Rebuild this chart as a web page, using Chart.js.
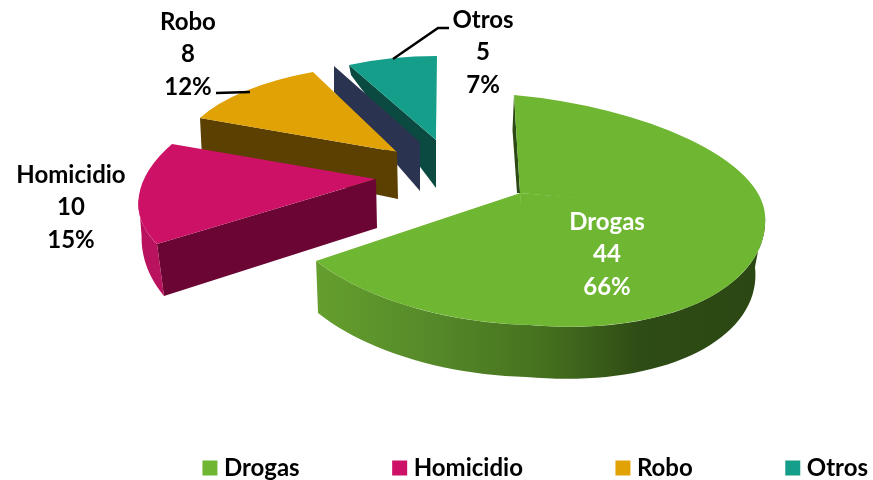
<!DOCTYPE html>
<html>
<head>
<meta charset="utf-8">
<title>Delitos</title>
<script src="https://cdn.jsdelivr.net/npm/chart.js@4"></script>
<style>
  html, body { margin: 0; padding: 0; background: #fff; }
  #wrap { width: 873px; height: 480px; }
</style>
</head>
<body>
<div id="wrap"><canvas id="pie" width="873" height="480"></canvas></div>
<script>
// data (the 5th slice is 0, only its side wall shows, no legend entry)
const categories = ["Drogas", "Homicidio", "Robo", "", "Otros"];
const values = [44, 10, 8, 0, 5];
const topColors = ["#6fb632", "#cd1166", "#e0a205", "#2a3350", "#159e8a"];

const FONT = 'bold 24px Lato, "Open Sans", sans-serif';
const DEG = Math.PI / 180;

// how each exploded slice sits on the page: apex + rim points, walls hand fitted
// rim[] goes from the slice start to its end, midAngles are the extra rim points in degrees
const shapes = [
  { apex: [520, 193], rim: [[514, 95], [765, 215], [530, 325], [316, 261]], midAngles: [90, 180],
    edge: { d1: [-1.5, 35], d2: [-3, 0], fill: "#2e4a14" },
    outer: { from: 90, to: 236.4, d1: [-10, 52], d2: [2, 52], gradient: true } },
  { apex: [376, 179], rim: [[157, 244], [172, 144]], midAngles: [],
    outer: { from: 236.4, to: 262, d1: [7, 52], d2: [3, 38], fill: "#b9125f" },
    edge: { d1: [7, 52], d2: [1, 49], fill: "#6b0533" } },
  { apex: [397, 152], rim: [[200, 118], [313, 72]], midAngles: [],
    edge: { d1: [2, 40], d2: [1, 47], fill: "#5c4002" } },
  { apex: [420, 142], rim: [[334, 66], [334, 66]], midAngles: [],
    edge: { d1: [0, 26], d2: [0, 49], fill: "#2a3350" } },
  { apex: [436, 140], rim: [[349, 65], [437, 56]], midAngles: [],
    edge: { d1: [2, 10], d2: [0, 48], fill: "#0a4a40" } },
];

// back to front
const paintOrder = [4, 3, 2, 1, 0];

const labelSpots = [
  { x: 607, y: 222, color: "#ffffff" },
  { x: 71, y: 175, color: "#000000" },
  { x: 188, y: 22, color: "#000000" },
  null,
  { x: 483, y: 20, color: "#000000" },
];
const LINE_H = 32.5;
const leaders = [
  [[216, 93], [250, 92]],
  [[393, 59], [438, 28], [449, 28]],
];

// one linear map per rim stretch, so the rim passes through the fitted points
function pieces(shape, arc) {
  const R0 = (arc.startAngle + Math.PI / 2);
  const R1 = (arc.endAngle + Math.PI / 2);
  const angles = [R0].concat(shape.midAngles.map(a => a * DEG), [R1]);
  const out = [];
  for (let i = 0; i < angles.length - 1; i++) {
    const a1 = angles[i], a2 = angles[i + 1];
    const u1 = [Math.sin(a1), -Math.cos(a1)], u2 = [Math.sin(a2), -Math.cos(a2)];
    const p1 = [shape.rim[i][0] - shape.apex[0], shape.rim[i][1] - shape.apex[1]];
    const p2 = [shape.rim[i + 1][0] - shape.apex[0], shape.rim[i + 1][1] - shape.apex[1]];
    const det = u1[0] * u2[1] - u2[0] * u1[1];
    if (Math.abs(det) < 1e-6) continue;
    out.push({
      a1, a2,
      A: (p1[0] * u2[1] - p2[0] * u1[1]) / det,
      B: (p2[0] * u1[0] - p1[0] * u2[0]) / det,
      C: (p1[1] * u2[1] - p2[1] * u1[1]) / det,
      D: (p2[1] * u1[0] - p1[1] * u2[0]) / det,
    });
  }
  return out;
}

function rimPoint(shape, list, t) {
  let p = list[list.length - 1];
  for (const q of list) { if (t <= q.a2) { p = q; break; } }
  const ux = Math.sin(t), uy = -Math.cos(t);
  return [shape.apex[0] + p.A * ux + p.B * uy, shape.apex[1] + p.C * ux + p.D * uy];
}

function polygon(ctx, pts, fill) {
  ctx.beginPath();
  pts.forEach((p, i) => { if (i === 0) ctx.moveTo(p[0], p[1]); else ctx.lineTo(p[0], p[1]); });
  ctx.closePath();
  ctx.fillStyle = fill;
  ctx.fill();
}

function drawOuterWall(ctx, shape, list) {
  const o = shape.outer;
  if (!o) return;
  const top = [], bottom = [];
  for (let i = 0; i <= 60; i++) {
    const k = i / 60;
    const p = rimPoint(shape, list, (o.from + (o.to - o.from) * k) * DEG);
    top.push(p);
    bottom.push([p[0] + o.d1[0] + (o.d2[0] - o.d1[0]) * k, p[1] + o.d1[1] + (o.d2[1] - o.d1[1]) * k]);
  }
  let fill = o.fill;
  if (o.gradient) {
    fill = ctx.createLinearGradient(316, 0, 765, 0);
    fill.addColorStop(0, "#659f2e");
    fill.addColorStop(0.25, "#568a29");
    fill.addColorStop(0.5, "#46721f");
    fill.addColorStop(0.72, "#2e4c15");
    fill.addColorStop(1, "#2b4713");
  }
  polygon(ctx, top.concat(bottom.reverse()), fill);
}

function drawEdgeWall(ctx, shape) {
  const e = shape.edge;
  if (!e) return;
  const c = shape.rim[0], a = shape.apex;
  polygon(ctx, [c, a, [a[0] + e.d2[0], a[1] + e.d2[1]], [c[0] + e.d1[0], c[1] + e.d1[1]]], e.fill);
}

function drawTop(ctx, shape, list, arc) {
  if (arc.circumference === 0) return;
  const R = arc.outerRadius;
  list.forEach(p => {
    ctx.save();
    ctx.transform(p.A / R, p.C / R, p.B / R, p.D / R, shape.apex[0], shape.apex[1]);
    ctx.translate(-arc.x, -arc.y);
    // wedge for this stretch, a touch wider so no seam shows
    ctx.beginPath();
    ctx.moveTo(arc.x, arc.y);
    ctx.arc(arc.x, arc.y, R * 1.2, p.a1 - Math.PI / 2 - 0.01, p.a2 - Math.PI / 2 + 0.01);
    ctx.closePath();
    ctx.clip();
    arc.draw(ctx);
    ctx.restore();
  });
}

const pie3d = {
  id: "pie3d",
  beforeDatasetDraw(chart) {
    const ctx = chart.ctx;
    const arcs = chart.getDatasetMeta(0).data;
    paintOrder.forEach(i => {
      const list = pieces(shapes[i], arcs[i]);
      if (i === 3) {
        drawEdgeWall(ctx, shapes[i]);
        return;
      }
      drawEdgeWall(ctx, shapes[i]);
      drawOuterWall(ctx, shapes[i], list);
      drawTop(ctx, shapes[i], list, arcs[i]);
    });
    return false;
  },
  afterDatasetsDraw(chart) {
    const ctx = chart.ctx;
    const total = values.reduce((a, b) => a + b, 0);
    ctx.save();
    ctx.strokeStyle = "#000";
    ctx.lineWidth = 2.5;
    leaders.forEach(l => {
      ctx.beginPath();
      l.forEach((p, i) => { if (i === 0) ctx.moveTo(p[0], p[1]); else ctx.lineTo(p[0], p[1]); });
      ctx.stroke();
    });
    ctx.font = FONT;
    ctx.textAlign = "center";
    ctx.textBaseline = "middle";
    categories.forEach((c, i) => {
      const s = labelSpots[i];
      if (!s) return;
      ctx.fillStyle = s.color;
      ctx.fillText(c, s.x, s.y);
      ctx.fillText(String(values[i]), s.x, s.y + LINE_H);
      ctx.fillText(Math.round(values[i] / total * 100) + "%", s.x, s.y + LINE_H * 2);
    });
    ctx.restore();
  },
};

new Chart(document.getElementById("pie"), {
  type: "pie",
  data: {
    labels: categories,
    datasets: [{ data: values, backgroundColor: topColors, borderWidth: 0 }],
  },
  options: {
    responsive: false,
    animation: false,
    layout: { padding: { right: -93, bottom: -10 } },
    plugins: {
      tooltip: { enabled: false },
      legend: {
        position: "bottom",
        align: "end",
        labels: {
          // small box with a thick same colour border: keeps the text closer to the square
          boxWidth: 4,
          boxHeight: 4,
          padding: 98,
          color: "#000",
          font: { family: 'Lato, "Open Sans", sans-serif', size: 24, weight: "bold" },
          filter: item => {
            item.lineWidth = 11;
            item.strokeStyle = item.fillStyle;
            return item.text !== "";
          },
        },
      },
    },
  },
  plugins: [pie3d],
});
</script>
</body>
</html>
